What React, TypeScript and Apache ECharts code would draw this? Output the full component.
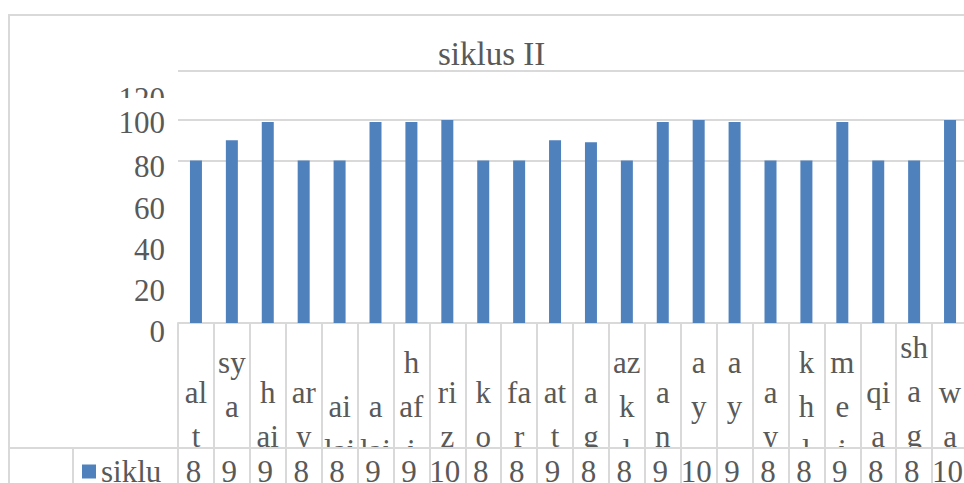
import React, { useEffect, useRef } from "react";
import * as echarts from "echarts";

const chartTitle = "siklus II";
const seriesName = "siklus II";
const categories = [
  "al\nt", "sy\na", "h\nai", "ar\ny", "ai\nlai", "a\nlai", "h\naf\ni", "ri\nz", "k\no", "fa\nr", "at\nt",
  "a\ng", "az\nk\nl", "a\nn", "a\ny", "a\ny", "a\ny", "k\nh\nl", "m\ne\ni", "qi\na", "sh\na\ng", "w\na",
];
const values = [80, 90, 99, 80, 80, 99, 99, 100, 80, 80, 90, 89, 80, 99, 100, 99, 80, 80, 99, 80, 80, 100];
const yMin = 0;
const yMax = 120;
const yStep = 20;

// layout helpers (vertical lead of each category label, in px)
const labelLead = [47, 17, 47, 47, 61, 61, 17, 47, 47, 47, 47, 47, 17, 47, 17, 17, 47, 17, 17, 47, 2, 47];
const yLabelShift: Record<number, number> = { 0: 8, 20: 8, 40: 8, 60: 7, 80: 5.5, 100: 2, 120: 19.5 };

const FONT = "Liberation Serif";
const GREY = "#595959";
const LINE = "#d9d9d9";

export default function App() {
  const ref = useRef<HTMLDivElement>(null);
  useEffect(() => {
    if (!ref.current) return;
    const chart = echarts.init(ref.current, undefined, { renderer: "svg" });

    const catRich: Record<string, any> = {
      t: { fontSize: 31, fontFamily: FONT, color: GREY, lineHeight: 44 },
    };
    labelLead.forEach((h, i) => {
      catRich["s" + i] = { fontSize: 1, lineHeight: h, height: h };
    });
    const yRich: Record<string, any> = {};
    Object.keys(yLabelShift).forEach((k) => {
      yRich["y" + k] = { fontSize: 31, fontFamily: FONT, color: GREY, lineHeight: yLabelShift[+k] * 2 };
    });

    const splitColors = [0, 20, 40, 60, 80, 100, 120].map((v) => (v === 80 || v === 100 ? LINE : "rgba(0,0,0,0)"));

    chart.setOption({
      animation: false,
      backgroundColor: "#ffffff",
      title: {
        text: chartTitle,
        left: 438,
        top: 37,
        padding: 0,
        textStyle: { fontFamily: FONT, fontSize: 33, fontWeight: "normal", color: GREY },
      },
      legend: {
        data: [seriesName],
        left: 82,
        top: 456,
        padding: 0,
        icon: "rect",
        itemWidth: 14,
        itemHeight: 14,
        textStyle: { fontFamily: FONT, fontSize: 31, color: GREY, width: 68, overflow: "truncate", ellipsis: "" },
      },
      grid: {
        left: 178,
        width: 790,
        top: 79.4,
        height: 243.6,
        containLabel: false,
        outerBoundsMode: "none",
      },
      xAxis: [
        {
          type: "category",
          data: categories,
          position: "bottom",
          z: 0,
          axisLine: { show: true, lineStyle: { color: LINE, width: 2 } },
          axisTick: { show: false },
          axisLabel: {
            interval: 0,
            margin: 0,
            verticalAlign: "top",
            formatter: (v: string, i: number) =>
              `{s${i}| }\n` + v.split("\n").map((l) => `{t|${l}}`).join("\n"),
            rich: catRich,
          },
        },
        {
          type: "category",
          data: categories,
          position: "bottom",
          z: 10,
          axisLine: { show: false },
          axisTick: { show: true, length: 160, lineStyle: { color: LINE, width: 2 } },
          axisLabel: {
            interval: 0,
            margin: 128,
            padding: [0, 5, 0, 0],
            fontFamily: FONT,
            fontSize: 31,
            color: GREY,
            lineHeight: 40,
            verticalAlign: "top",
            formatter: (_v: string, i: number) => {
              const s = String(values[i]);
              return s.length >= 3 ? s.slice(0, 2) + "\n" + s.slice(2) : s[0] + "\n" + s.slice(1);
            },
          },
        },
      ],
      yAxis: [
        {
          type: "value",
          min: yMin,
          max: yMax,
          interval: yStep,
          axisLine: { show: false },
          axisTick: { show: false },
          splitLine: { show: true, lineStyle: { color: splitColors, width: 2 } },
          axisLabel: {
            margin: 13,
            verticalAlign: "top",
            showMaxLabel: false,
            formatter: (v: number) => (v === yMax ? "" : `{y${v}|${v}}`),
            rich: yRich,
          },
        },
        {
          type: "value",
          min: yMin,
          max: yMax,
          interval: yStep,
          position: "left",
          axisLine: { show: false },
          axisTick: { show: false },
          splitLine: { show: false },
          axisLabel: {
            margin: 13,
            verticalAlign: "top",
            showMaxLabel: true,
            showMinLabel: false,
            formatter: (v: number) => (v === yMax ? `{y${v}|${v}}` : ""),
            rich: yRich,
          },
        },
      ],
      series: [
        {
          name: seriesName,
          type: "bar",
          xAxisIndex: 0,
          yAxisIndex: 0,
          data: values,
          barWidth: 12,
          itemStyle: { color: "#4f81bd" },
        },
      ],
      graphic: [
        { type: "rect", z: 5, shape: { x: 178, y: 449, width: 800, height: 40 }, style: { fill: "#ffffff" } },
        { type: "rect", z: 5, shape: { x: 90, y: 98, width: 86, height: 11 }, style: { fill: "#ffffff" } },
        { type: "rect", z: 5, shape: { x: 90, y: 60, width: 86, height: 28 }, style: { fill: "#ffffff" } },
        { type: "line", z: 6, shape: { x1: 8, y1: 15, x2: 964, y2: 15 }, style: { stroke: LINE, lineWidth: 2 } },
        { type: "line", z: 6, shape: { x1: 9, y1: 14, x2: 9, y2: 483 }, style: { stroke: LINE, lineWidth: 2 } },
        { type: "line", z: 6, shape: { x1: 178, y1: 71, x2: 964, y2: 71 }, style: { stroke: LINE, lineWidth: 2 } },
        { type: "line", z: 6, shape: { x1: 8, y1: 448, x2: 964, y2: 448 }, style: { stroke: LINE, lineWidth: 2 } },
        { type: "line", z: 6, shape: { x1: 73, y1: 448, x2: 73, y2: 483 }, style: { stroke: LINE, lineWidth: 2 } },
      ],
    });
    return () => chart.dispose();
  }, []);
  return <div ref={ref} style={{ position: "fixed", left: 0, top: 0, width: 964, height: 483 }} />;
}
